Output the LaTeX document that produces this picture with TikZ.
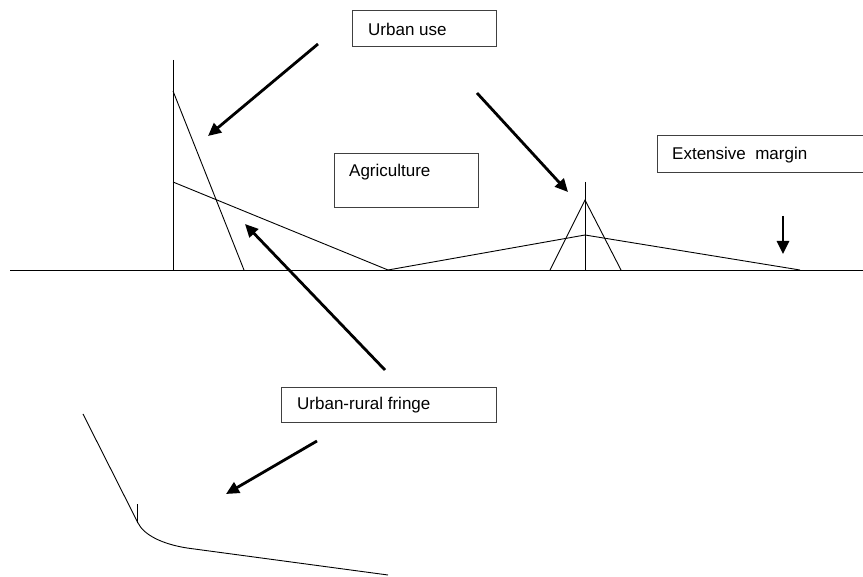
\documentclass[tikz,border=0pt]{standalone}
\usepackage{fontspec}
\setmainfont{Liberation Sans}
\usetikzlibrary{arrows.meta}
\begin{document}
\begin{tikzpicture}[x=1pt,y=-1pt,
  thinline/.style={line width=0.9pt,black},
  bigarrow/.style={line width=2.8pt,-{Triangle[length=13pt,width=12pt]}},
  boxnode/.style={draw=black!75,line width=1pt,anchor=north west,inner sep=0pt},
  lbl/.style={anchor=west,inner sep=0pt,font=\fontsize{17}{20}\selectfont}]
\useasboundingbox (0,0) rectangle (863,577);
% axes and curves
\coordinate (ax0) at (10,270);
\coordinate (ax1) at (863,270);
\draw[thinline] (ax0) -- (ax1);
\coordinate (vtop) at (173,60);
\coordinate (vbot) at (173,270);
\draw[thinline] (vtop) -- (vbot);
\coordinate (s0) at (173,91);
\coordinate (s1) at (244,270);
\draw[thinline] (s0) -- (s1);
\coordinate (a0) at (173,182);
\coordinate (a1) at (388,270);
\coordinate (a2) at (585,235);
\coordinate (a3) at (800,270);
\draw[thinline] (a0) -- (a1) -- (a2) -- (a3);
\coordinate (v2top) at (585,182);
\coordinate (v2bot) at (585,270);
\draw[thinline] (v2top) -- (v2bot);
\coordinate (t0) at (550,270);
\coordinate (t1) at (585,200);
\coordinate (t2) at (621,270);
\draw[thinline] (t0) -- (t1) -- (t2);
% boxes
\node[boxnode,minimum width=144,minimum height=36] (urbanbox) at (352,10) {};
\node[lbl] (urban) at (368,29) {Urban use};
\node[boxnode,minimum width=144,minimum height=54] (agribox) at (334,153) {};
\node[lbl] (agri) at (349,172) {Agriculture};
\node[boxnode,minimum width=215,minimum height=37] (extbox) at (657,135) {};
\node[lbl] (ext) at (672,155) {Extensive\ \ margin};
\node[boxnode,minimum width=215,minimum height=35] (fringebox) at (281,387) {};
\node[lbl] (fringe) at (297,405) {Urban-rural fringe};
% arrows
\coordinate (ar1s) at (318,44);
\coordinate (ar1e) at (208,136);
\draw[bigarrow] (ar1s) -- (ar1e);
\coordinate (ar2s) at (477,93);
\coordinate (ar2e) at (568,192);
\draw[bigarrow] (ar2s) -- (ar2e);
\coordinate (ar3s) at (385,370);
\coordinate (ar3e) at (245,224);
\draw[bigarrow] (ar3s) -- (ar3e);
\coordinate (ar4s) at (317,441);
\coordinate (ar4e) at (226,494);
\draw[bigarrow] (ar4s) -- (ar4e);
\coordinate (ar5s) at (783,216);
\coordinate (ar5e) at (783,254);
\draw[bigarrow] (ar5s) -- (ar5e);
% bottom curve
\coordinate (c0) at (83,414);
\coordinate (c1) at (138,523);
\coordinate (c2) at (187,548);
\coordinate (c3) at (388,575);
\draw[thinline] (c0) -- (c1) .. controls (144,535) and (162,544) .. (c2) -- (c3);
\coordinate (tk0) at (137,504);
\coordinate (tk1) at (137,523);
\draw[thinline] (tk0) -- (tk1);
\end{tikzpicture}
\end{document}
